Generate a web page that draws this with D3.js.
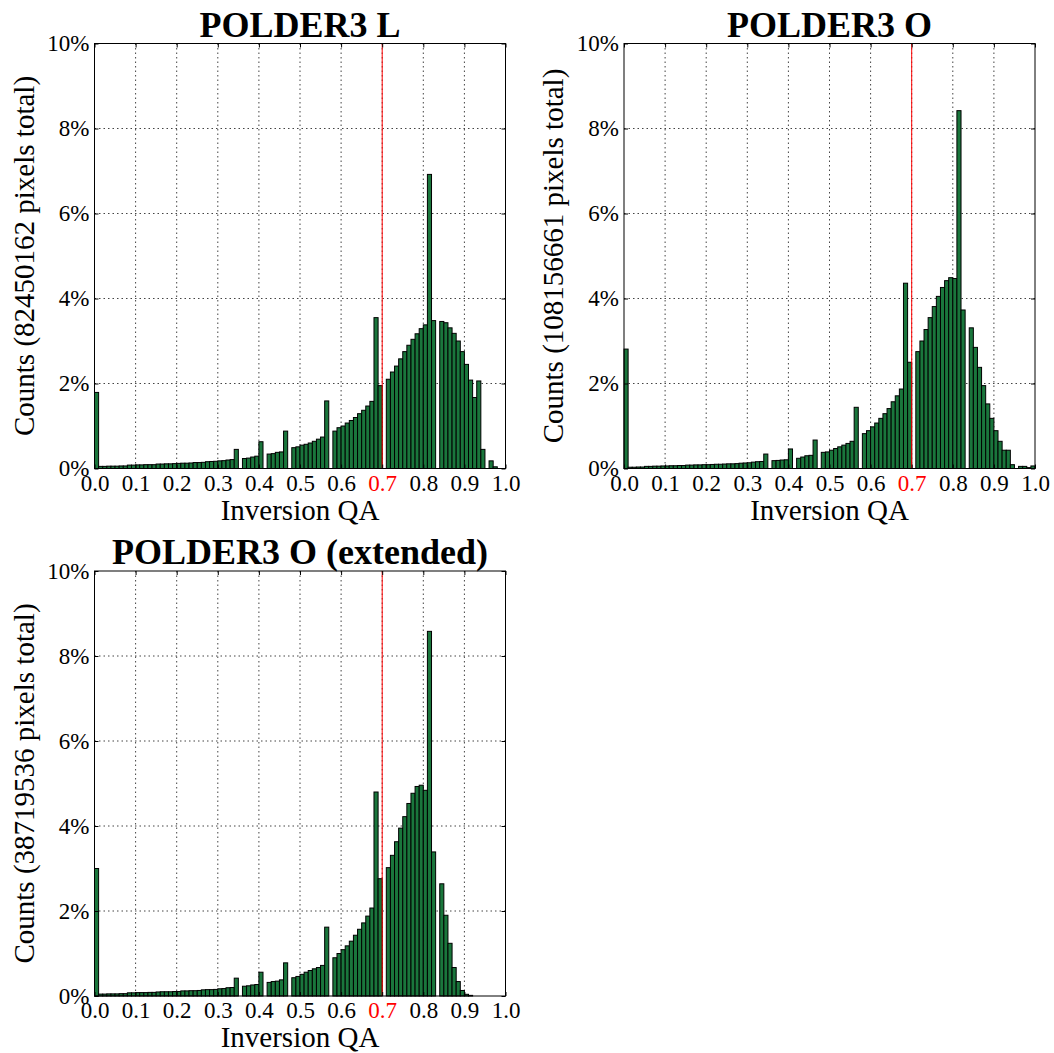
<!DOCTYPE html>
<html>
<head>
<meta charset="utf-8">
<script src="https://cdn.jsdelivr.net/npm/d3@7"></script>
<style>
  body { margin: 0; background: #fff; }
  svg, svg text { font-family: "Liberation Serif", "DejaVu Serif", serif; }
</style>
</head>
<body>
<script>
// histogram bins of width 0.01 on [0, 1]
const binStart = d3.range(100).map(i => i / 100);
const binWidth = 0.01;
const xTicks = [0, 0.1, 0.2, 0.3, 0.4, 0.5, 0.6, 0.7, 0.8, 0.9, 1.0];
const yTicks = [0, 2, 4, 6, 8, 10];
const qaThreshold = 0.7;

// percent of pixels per bin
const pctL = [
  1.79, 0.05, 0.05, 0.055, 0.055, 0.055, 0.06, 0.06, 0.08, 0.08,
  0.085, 0.085, 0.09, 0.09, 0.09, 0.105, 0.105, 0.11, 0.11, 0.115,
  0.12, 0.125, 0.125, 0.13, 0.14, 0.14, 0.145, 0.16, 0.165, 0.17,
  0.18, 0.185, 0.2, 0.21, 0.45, 0, 0.235, 0.245, 0.27, 0.29,
  0.63, 0, 0.34, 0.35, 0.38, 0.39, 0.88, 0, 0.49, 0.51,
  0.55, 0.57, 0.6, 0.64, 0.69, 0.74, 1.59, 0, 0.88, 0.96,
  1.0, 1.07, 1.13, 1.2, 1.29, 1.37, 1.47, 1.58, 3.55, 1.95,
  0, 2.1, 2.27, 2.41, 2.58, 2.75, 2.9, 3.04, 3.17, 3.29,
  3.38, 6.92, 3.48, 0, 3.46, 3.43, 3.31, 3.18, 3.0, 2.75,
  2.45, 2.08, 1.67, 2.06, 0.45, 0, 0.18, 0.04, 0, 0
];
const pctO = [
  2.81, 0.03, 0.03, 0.035, 0.035, 0.05, 0.05, 0.055, 0.055, 0.06,
  0.06, 0.065, 0.065, 0.07, 0.07, 0.08, 0.08, 0.085, 0.085, 0.09,
  0.09, 0.095, 0.1, 0.1, 0.105, 0.11, 0.11, 0.115, 0.125, 0.13,
  0.135, 0.15, 0.16, 0.165, 0.34, 0, 0.185, 0.19, 0.2, 0.205,
  0.46, 0, 0.24, 0.27, 0.3, 0.31, 0.67, 0, 0.38, 0.39,
  0.43, 0.47, 0.51, 0.55, 0.59, 0.64, 1.44, 0, 0.82, 0.89,
  0.98, 1.07, 1.18, 1.29, 1.41, 1.57, 1.71, 1.87, 4.36, 2.5,
  0, 2.75, 3.0, 3.27, 3.55, 3.81, 4.05, 4.26, 4.42, 4.49,
  4.47, 8.42, 3.73, 0, 3.31, 2.85, 2.38, 1.95, 1.52, 1.18,
  0.89, 0.64, 0.43, 0.43, 0.09, 0, 0.05, 0.05, 0.02, 0.06
];
const pctOExt = [
  3.0, 0.045, 0.045, 0.05, 0.05, 0.05, 0.055, 0.055, 0.075, 0.075,
  0.08, 0.08, 0.08, 0.085, 0.085, 0.095, 0.1, 0.1, 0.1, 0.105,
  0.105, 0.12, 0.12, 0.125, 0.125, 0.13, 0.145, 0.15, 0.15, 0.155,
  0.17, 0.175, 0.195, 0.2, 0.42, 0, 0.23, 0.24, 0.26, 0.27,
  0.56, 0, 0.32, 0.34, 0.35, 0.38, 0.78, 0, 0.43, 0.46,
  0.51, 0.56, 0.6, 0.64, 0.67, 0.72, 1.62, 0, 0.9, 1.0,
  1.09, 1.18, 1.29, 1.43, 1.57, 1.72, 1.88, 2.07, 4.8, 2.76,
  0, 3.02, 3.31, 3.63, 3.95, 4.22, 4.53, 4.77, 4.93, 4.96,
  4.84, 8.58, 3.39, 0, 2.64, 1.9, 1.24, 0.67, 0.34, 0.13,
  0.04, 0.015, 0, 0, 0, 0, 0, 0, 0, 0
];

const titles = ["POLDER3 L", "POLDER3 O", "POLDER3 O (extended)"];
const totals = ["82450162", "108156661", "38719536"];

const panels = [
  { title: titles[0], total: totals[0], values: pctL, left: 94.5, top: 43.5 },
  { title: titles[1], total: totals[1], values: pctO, left: 624, top: 43.5 },
  { title: titles[2], total: totals[2], values: pctOExt, left: 94.5, top: 571 }
];

const width = 411;
const height = 425;

const svg = d3.select("body").append("svg")
    .attr("width", 1054)
    .attr("height", 1053);

panels.forEach(p => {
    const data = binStart.map((b, i) => ({ x: b, v: p.values[i] }));

    const x = d3.scaleLinear().domain([0, 1]).range([0, width]);
    const y = d3.scaleLinear().domain([0, 10]).range([height, 0]);

    const g = svg.append("g")
        .attr("transform", `translate(${p.left},${p.top})`);

    // dotted grid
    g.append("g").selectAll("line")
        .data(xTicks.slice(1, -1))
        .join("line")
        .attr("x1", d => x(d)).attr("x2", d => x(d))
        .attr("y1", 0).attr("y2", height)
        .attr("stroke", "#444")
        .attr("stroke-width", 1)
        .attr("stroke-dasharray", "1.5,3");

    g.append("g").selectAll("line")
        .data(yTicks.slice(1, -1))
        .join("line")
        .attr("x1", 0).attr("x2", width)
        .attr("y1", d => y(d)).attr("y2", d => y(d))
        .attr("stroke", "#444")
        .attr("stroke-width", 1)
        .attr("stroke-dasharray", "1.5,3");

    // bars
    g.append("g").selectAll("rect")
        .data(data.filter(d => d.v > 0))
        .join("rect")
        .attr("x", d => x(d.x))
        .attr("width", x(binWidth) - x(0))
        .attr("y", d => y(d.v))
        .attr("height", d => height - y(d.v))
        .attr("fill", "#1a763c")
        .attr("stroke", "#000")
        .attr("stroke-width", 1);

    // QA threshold
    g.append("line")
        .attr("x1", x(qaThreshold)).attr("x2", x(qaThreshold))
        .attr("y1", 0).attr("y2", height)
        .attr("stroke", "red")
        .attr("stroke-width", 1);

    // axes with inward ticks
    g.append("g")
        .call(d3.axisLeft(y).tickValues(yTicks).tickFormat(d => d + "%")
            .tickSize(-4).tickPadding(5));
    const xAxis = g.append("g")
        .attr("transform", `translate(0,${height})`)
        .call(d3.axisBottom(x).tickValues(xTicks).tickFormat(d3.format(".1f"))
            .tickSize(-4).tickPadding(6));
    g.append("g")
        .call(d3.axisTop(x).tickValues(xTicks).tickFormat("").tickSize(-4));
    g.append("g")
        .attr("transform", `translate(${width},0)`)
        .call(d3.axisRight(y).tickValues(yTicks).tickFormat("").tickSize(-4));

    g.selectAll("g").attr("font-family", null).attr("font-size", null);
    g.selectAll(".domain").remove();
    g.selectAll(".tick line").attr("stroke", "#000");
    g.selectAll(".tick text")
        .style("font-size", "23px")
        .attr("fill", "#000");
    xAxis.selectAll(".tick text")
        .attr("fill", d => Math.abs(d - qaThreshold) < 1e-9 ? "red" : "#000");

    // frame
    g.append("rect")
        .attr("width", width)
        .attr("height", height)
        .attr("fill", "none")
        .attr("stroke", "#000")
        .attr("stroke-width", 1);

    g.append("text")
        .attr("x", width / 2)
        .attr("y", -7)
        .attr("text-anchor", "middle")
        .style("font-size", "36px")
        .style("font-weight", "bold")
        .text(p.title);

    g.append("text")
        .attr("x", width / 2)
        .attr("y", height + 51)
        .attr("text-anchor", "middle")
        .style("font-size", "29px")
        .text("Inversion QA");

    g.append("text")
        .attr("transform", `translate(-61,${height / 2}) rotate(-90)`)
        .attr("text-anchor", "middle")
        .style("font-size", "29px")
        .text(`Counts (${p.total} pixels total)`);
});
</script>
</body>
</html>
